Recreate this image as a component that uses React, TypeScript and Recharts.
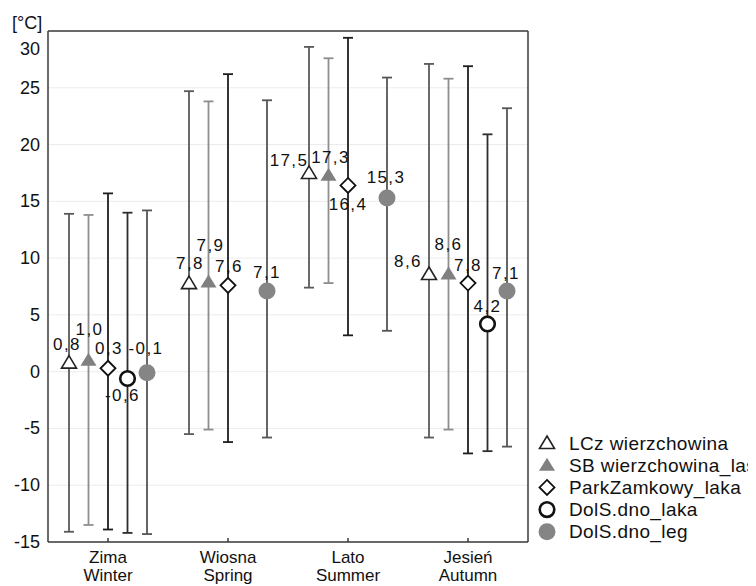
import { ScatterChart, Scatter, XAxis, YAxis, CartesianGrid, ErrorBar } from "recharts";

const SEASONS_PL = ["Zima", "Wiosna", "Lato", "Jesień"];
const SEASONS_EN = ["Winter", "Spring", "Summer", "Autumn"];
const SERIES_NAMES = [
  "LCz wierzchowina",
  "SB wierzchowina_las",
  "ParkZamkowy_laka",
  "DolS.dno_laka",
  "DolS.dno_leg",
];

// seasonal mean, minimum and maximum temperature [°C]; null = no record
const LCZ_MEAN = [0.8, 7.8, 17.5, 8.6];
const LCZ_MIN = [-14.1, -5.5, 7.4, -5.8];
const LCZ_MAX = [13.9, 24.7, 28.6, 27.1];

const SB_MEAN = [1.0, 7.9, 17.3, 8.6];
const SB_MIN = [-13.5, -5.1, 7.8, -5.1];
const SB_MAX = [13.8, 23.8, 27.6, 25.8];

const PARK_MEAN = [0.3, 7.6, 16.4, 7.8];
const PARK_MIN = [-13.9, -6.2, 3.2, -7.2];
const PARK_MAX = [15.7, 26.2, 29.4, 26.9];

const LAKA_MEAN = [-0.6, null, null, 4.2];
const LAKA_MIN = [-14.2, null, null, -7.0];
const LAKA_MAX = [14.0, null, null, 20.9];

const LEG_MEAN = [-0.1, 7.1, 15.3, 7.1];
const LEG_MIN = [-14.3, -5.8, 3.6, -6.6];
const LEG_MAX = [14.2, 23.9, 25.9, 23.2];

const Y_TICKS = [-15, -10, -5, 0, 5, 10, 15, 20, 25, 30];
const CAT_TICKS = [0.5, 1.5, 2.5, 3.5];

const FONT = "'Liberation Sans', Arial, Helvetica, sans-serif";
const FRAME = "#3a3a3a";

// horizontal spread of the five stations inside one season (category units)
const SHIFT = 0.1625;
const SLOT = [-2, -1, 0, 1, 2];

type Kind = "triangle" | "triangleFilled" | "diamond" | "circle" | "circleFilled";

const STYLES: { stroke: string; kind: Kind }[] = [
  { stroke: "#5a5a5a", kind: "triangle" },
  { stroke: "#8e8e8e", kind: "triangleFilled" },
  { stroke: "#1e1e1e", kind: "diamond" },
  { stroke: "#2e2e2e", kind: "circle" },
  { stroke: "#555555", kind: "circleFilled" },
];

// value label placement [dx, dy] around each marker, per station and season
const LABEL_POS: (number[] | null)[][] = [
  [[-2, -18], [1, -20], [-20, -12], [-21, -13]],
  [[1, -31], [2, -36], [2, -18], [0, -30]],
  [[1, -20], [1, -19], [0, 19], [0, -18]],
  [[-5, 17], null, null, [0, -17]],
  [[-1, -24], [0, -19], [-1, -20], [-1, -18]],
];

const build = (mean: (number | null)[], min: (number | null)[], max: (number | null)[], s: number) =>
  mean.flatMap((m, i) =>
    m == null
      ? []
      : [{ x: i + 0.5 + SLOT[s] * SHIFT, y: m, err: [m - (min[i] as number), (max[i] as number) - m], cat: i }]
  );

const SERIES = [
  build(LCZ_MEAN, LCZ_MIN, LCZ_MAX, 0),
  build(SB_MEAN, SB_MIN, SB_MAX, 1),
  build(PARK_MEAN, PARK_MIN, PARK_MAX, 2),
  build(LAKA_MEAN, LAKA_MIN, LAKA_MAX, 3),
  build(LEG_MEAN, LEG_MIN, LEG_MAX, 4),
];

const fmt = (v: number) => v.toFixed(1).replace(".", ",");

function Marker({ kind, cx, cy }: { kind: Kind; cx: number; cy: number }) {
  switch (kind) {
    case "triangle":
      return (
        <polygon
          points={`${cx},${cy - 7} ${cx + 7.5},${cy + 5.5} ${cx - 7.5},${cy + 5.5}`}
          fill="#fff"
          stroke="#222"
          strokeWidth={1.6}
        />
      );
    case "triangleFilled":
      return (
        <polygon
          points={`${cx},${cy - 7.5} ${cx + 8},${cy + 5.5} ${cx - 8},${cy + 5.5}`}
          fill="#808080"
        />
      );
    case "diamond":
      return (
        <polygon
          points={`${cx},${cy - 7.5} ${cx + 7.5},${cy} ${cx},${cy + 7.5} ${cx - 7.5},${cy}`}
          fill="#fff"
          stroke="#111"
          strokeWidth={1.8}
        />
      );
    case "circle":
      return <circle cx={cx} cy={cy} r={7.3} fill="#fff" stroke="#111" strokeWidth={2.6} />;
    default:
      return <circle cx={cx} cy={cy} r={8.5} fill="#858585" />;
  }
}

const pointShape = (s: number) => (p: any) => {
  const { cx, cy, payload } = p;
  const pos = LABEL_POS[s][payload.cat];
  return (
    <g>
      <Marker kind={STYLES[s].kind} cx={cx} cy={cy} />
      {pos && (
        <text
          x={cx + pos[0]}
          y={cy + pos[1]}
          textAnchor="middle"
          dominantBaseline="central"
          fontFamily={FONT}
          fontSize={17}
          letterSpacing={1.4}
          fill="#111"
        >
          {fmt(payload.y)}
        </text>
      )}
    </g>
  );
};

const TempTick = (p: any) => {
  const v = p.payload.value;
  return (
    <text
      x={p.x}
      y={p.y + (v === 30 ? 18 : 0)}
      textAnchor="end"
      dominantBaseline="central"
      fontFamily={FONT}
      fontSize={18}
      fill="#111"
    >
      {v}
    </text>
  );
};

const SeasonTick = (p: any) => {
  const i = CAT_TICKS.indexOf(p.payload.value);
  return (
    <g>
      <line x1={p.x} x2={p.x} y1={p.y} y2={p.y - 4} stroke={FRAME} strokeWidth={1.5} />
      <text x={p.x} y={p.y + 15} textAnchor="middle" dominantBaseline="central" fontFamily={FONT} fontSize={17} fill="#111">
        {SEASONS_PL[i]}
      </text>
      <text x={p.x} y={p.y + 33} textAnchor="middle" dominantBaseline="central" fontFamily={FONT} fontSize={17} fill="#111">
        {SEASONS_EN[i]}
      </text>
    </g>
  );
};

function StationLegend() {
  return (
    <svg
      width={219}
      height={120}
      style={{ position: "absolute", left: 529, top: 424 }}
    >
      {SERIES_NAMES.map((name, i) => {
        const cy = 11 + i * 22.2;
        return (
          <g key={name}>
            <Marker kind={STYLES[i].kind} cx={10} cy={cy} />
            <text x={32} y={cy} dominantBaseline="central" fontFamily={FONT} fontSize={19} letterSpacing={0.4} fill="#111">
              {name}
            </text>
          </g>
        );
      })}
    </svg>
  );
}

export default function App() {
  return (
    <div style={{ position: "relative", width: 748, height: 578, overflow: "hidden" }}>
      <div
        style={{
          position: "absolute",
          left: 4,
          top: 6,
          fontFamily: FONT,
          fontSize: 18,
          lineHeight: "18px",
          color: "#111",
        }}
      >
        [°C]
      </div>
      <ScatterChart width={748} height={578} margin={{ top: 23, right: 228, bottom: 0, left: 0 }}>
        <CartesianGrid vertical={false} stroke="#ececec" />
        <XAxis
          dataKey="x"
          type="number"
          domain={[0, 4]}
          ticks={CAT_TICKS}
          height={44}
          tick={SeasonTick}
          tickLine={false}
          tickSize={0}
          tickMargin={0}
          axisLine={{ stroke: FRAME, strokeWidth: 1.5 }}
        />
        <XAxis
          xAxisId="top"
          orientation="top"
          dataKey="x"
          type="number"
          domain={[0, 4]}
          ticks={CAT_TICKS}
          height={1}
          mirror
          tick={false}
          tickSize={4}
          tickLine={{ stroke: FRAME, strokeWidth: 1.5 }}
          axisLine={{ stroke: FRAME, strokeWidth: 1.5 }}
        />
        <YAxis
          dataKey="y"
          type="number"
          domain={[-15, 30]}
          ticks={Y_TICKS}
          width={40}
          tick={TempTick}
          tickLine={false}
          tickSize={0}
          tickMargin={8}
          axisLine={{ stroke: FRAME, strokeWidth: 1.5 }}
        />
        <YAxis
          yAxisId="right"
          orientation="right"
          dataKey="y"
          type="number"
          domain={[-15, 30]}
          ticks={Y_TICKS}
          width={1}
          mirror
          tick={false}
          tickSize={5}
          tickLine={{ stroke: FRAME, strokeWidth: 1.5 }}
          axisLine={{ stroke: FRAME, strokeWidth: 1.5 }}
        />
        {SERIES.map((data, s) => (
          <Scatter
            key={SERIES_NAMES[s]}
            name={SERIES_NAMES[s]}
            data={data}
            shape={pointShape(s)}
            isAnimationActive={false}
          >
            <ErrorBar
              dataKey="err"
              direction="y"
              width={5}
              stroke={STYLES[s].stroke}
              strokeWidth={1.8}
              isAnimationActive={false}
            />
          </Scatter>
        ))}
      </ScatterChart>
      <StationLegend />
    </div>
  );
}
